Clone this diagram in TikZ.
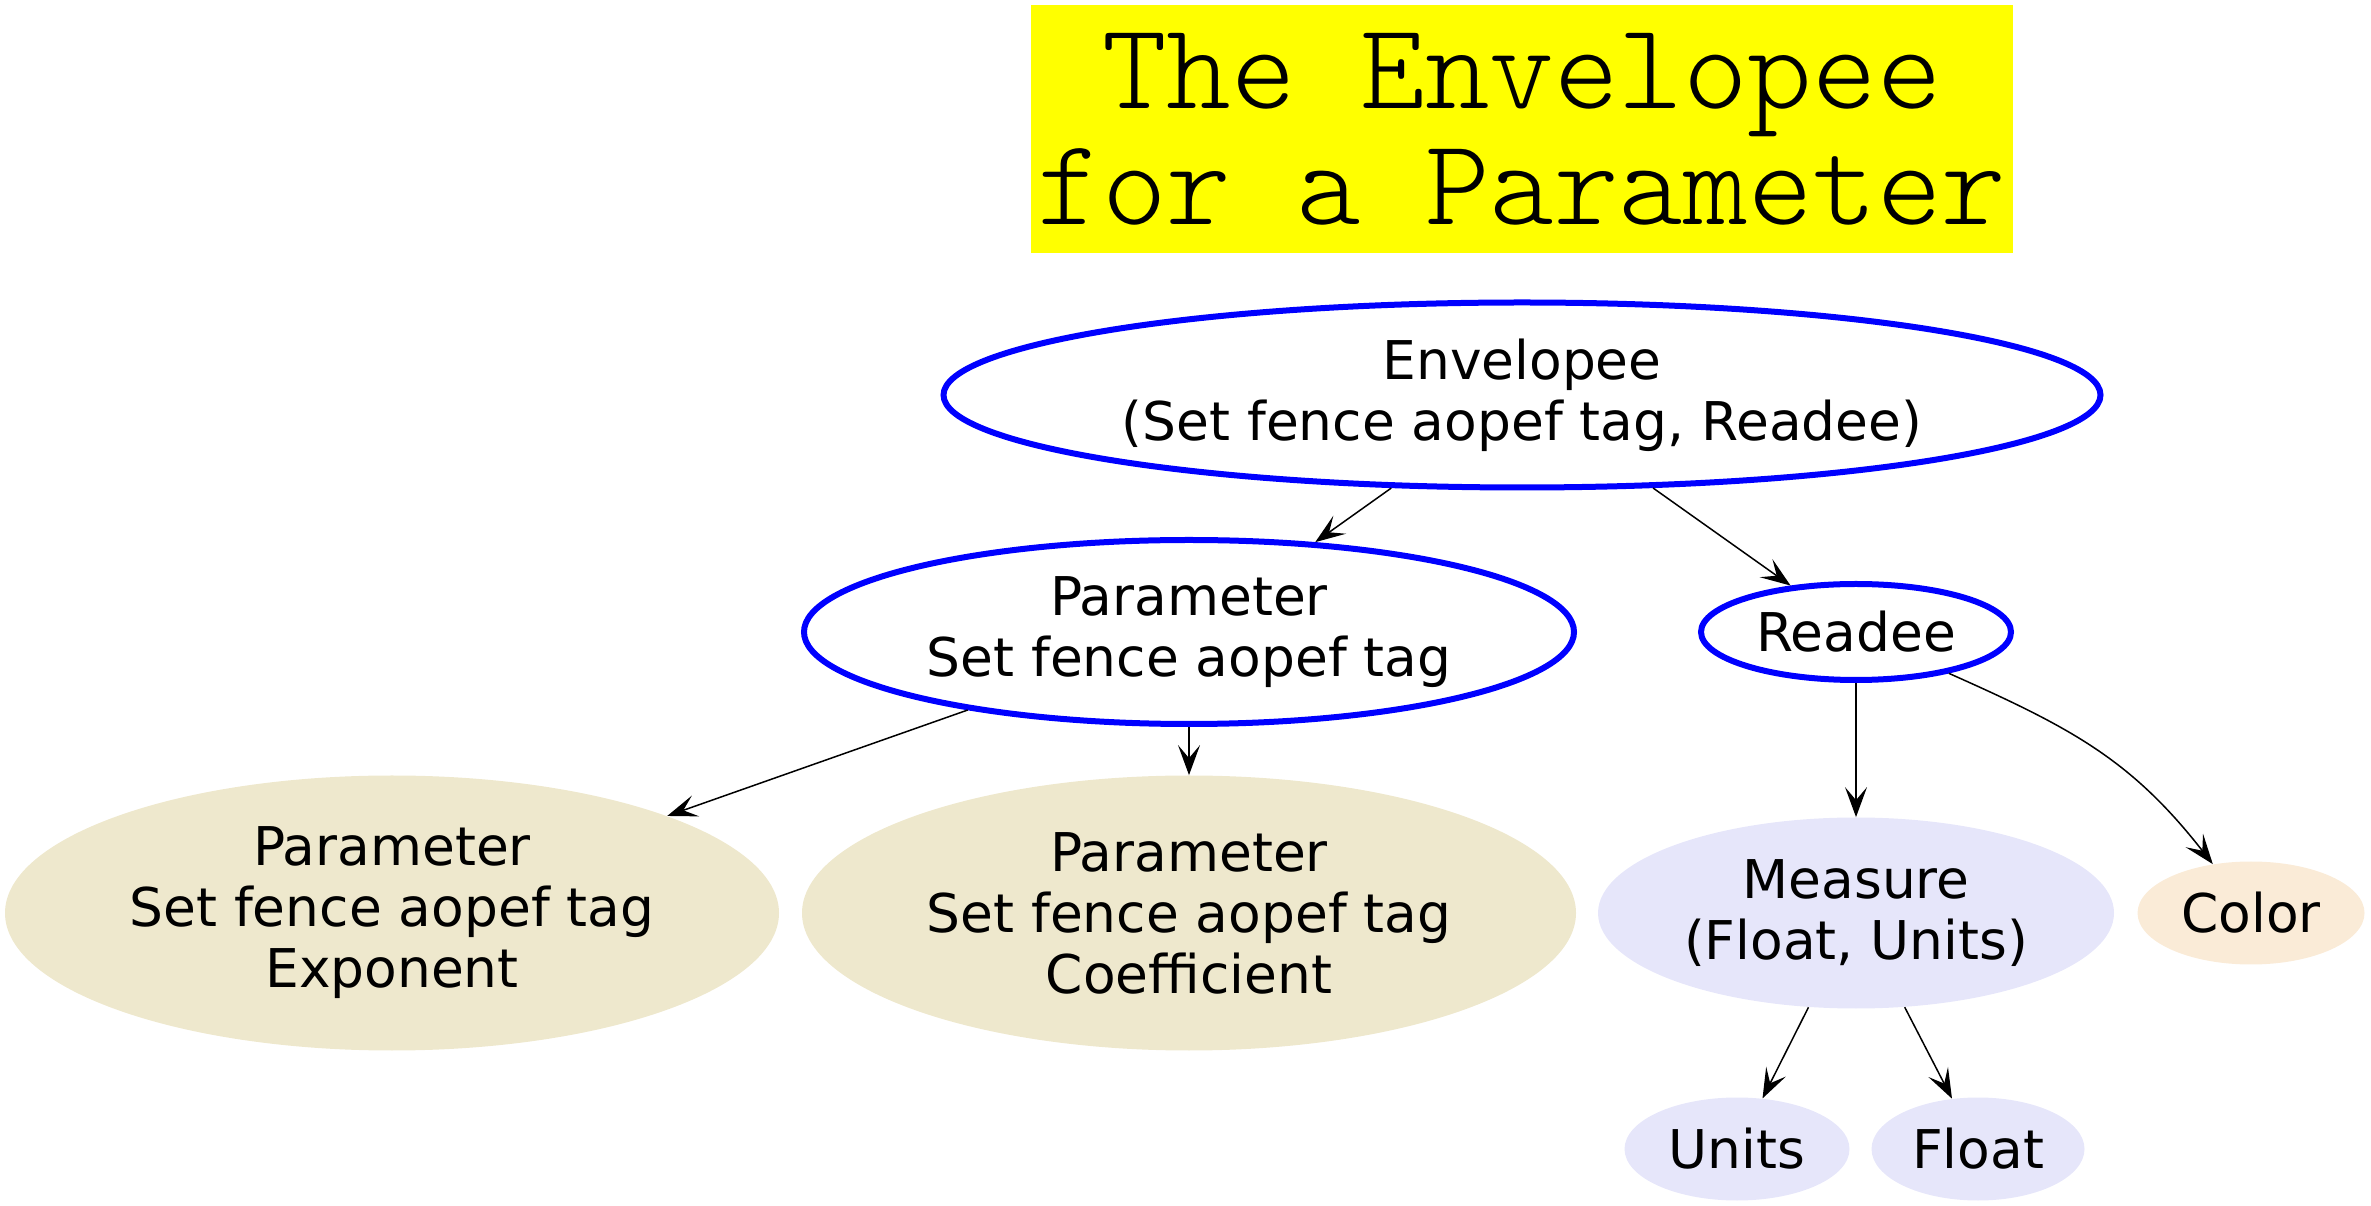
\documentclass[tikz,border=0pt]{standalone}
\usepackage{fontspec}
\usetikzlibrary{shapes.geometric,arrows.meta}
\newfontfamily\nodefont{DejaVu Sans}
\newfontfamily\titlefont{lmmonolt10-regular.otf}
\definecolor{gvblue}{RGB}{0,0,255}
\definecolor{gvtan}{HTML}{EEE8CD}
\definecolor{gvlav}{HTML}{E6E6FA}
\definecolor{gvantique}{HTML}{FAEBD7}
\definecolor{gvyellow}{HTML}{FFFF00}
\begin{document}
\begin{tikzpicture}[x=0.5pt,y=0.5pt,
  every node/.style={font=\nodefont\fontsize{26.7pt}{30.5pt}\selectfont, align=center, inner sep=0pt},
  blueell/.style={ellipse, draw=gvblue, line width=3pt, fill=white},
  tanell/.style={ellipse, fill=gvtan},
  lavell/.style={ellipse, fill=gvlav},
  antell/.style={ellipse, fill=gvantique},
  edge/.style={line width=0.75pt, -{Stealth[length=15pt, width=11pt, inset=6.5pt]}}]
\useasboundingbox (0,0) rectangle (2371,1205);
\node[fill=gvyellow, minimum width=491pt, minimum height=124pt,
      font=\titlefont\fontsize{61.5pt}{58pt}\selectfont] (title) at (1522,1076)
      {The Envelopee\\for a Parameter};
\node[blueell, minimum width=578.5pt, minimum height=92.5pt] (env) at (1522,810)
      {Envelopee\\(Set fence aopef tag, Readee)};
\node[blueell, minimum width=385pt, minimum height=92pt] (par) at (1189,573)
      {Parameter\\Set fence aopef tag};
\node[blueell, minimum width=155pt, minimum height=48pt] (rea) at (1856,573)
      {Readee};
\node[tanell, minimum width=387pt, minimum height=137.5pt] (exp) at (392,292)
      {Parameter\\Set fence aopef tag\\Exponent};
\node[tanell, minimum width=387pt, minimum height=137.5pt] (coe) at (1189,292)
      {Parameter\\Set fence aopef tag\\Coefficient};
\node[lavell, minimum width=258pt, minimum height=95.5pt] (mea) at (1856,292)
      {Measure\\(Float, Units)};
\node[antell, minimum width=113.5pt, minimum height=51.5pt] (col) at (2251,292)
      {Color};
\node[lavell, minimum width=112.5pt, minimum height=51.5pt] (uni) at (1737,56)
      {Units};
\node[lavell, minimum width=106.5pt, minimum height=51.5pt] (flo) at (1978,56)
      {Float};
\draw[edge] (env) -- (par);
\draw[edge] (env) -- (rea);
\draw[edge] (par) -- (exp);
\draw[edge] (par) -- (coe);
\draw[edge] (rea) -- (mea);
\draw[edge] (rea) to[out=-24, in=128, looseness=1.05] (col);
\draw[edge] (mea) -- (uni);
\draw[edge] (mea) -- (flo);
\end{tikzpicture}
\end{document}
